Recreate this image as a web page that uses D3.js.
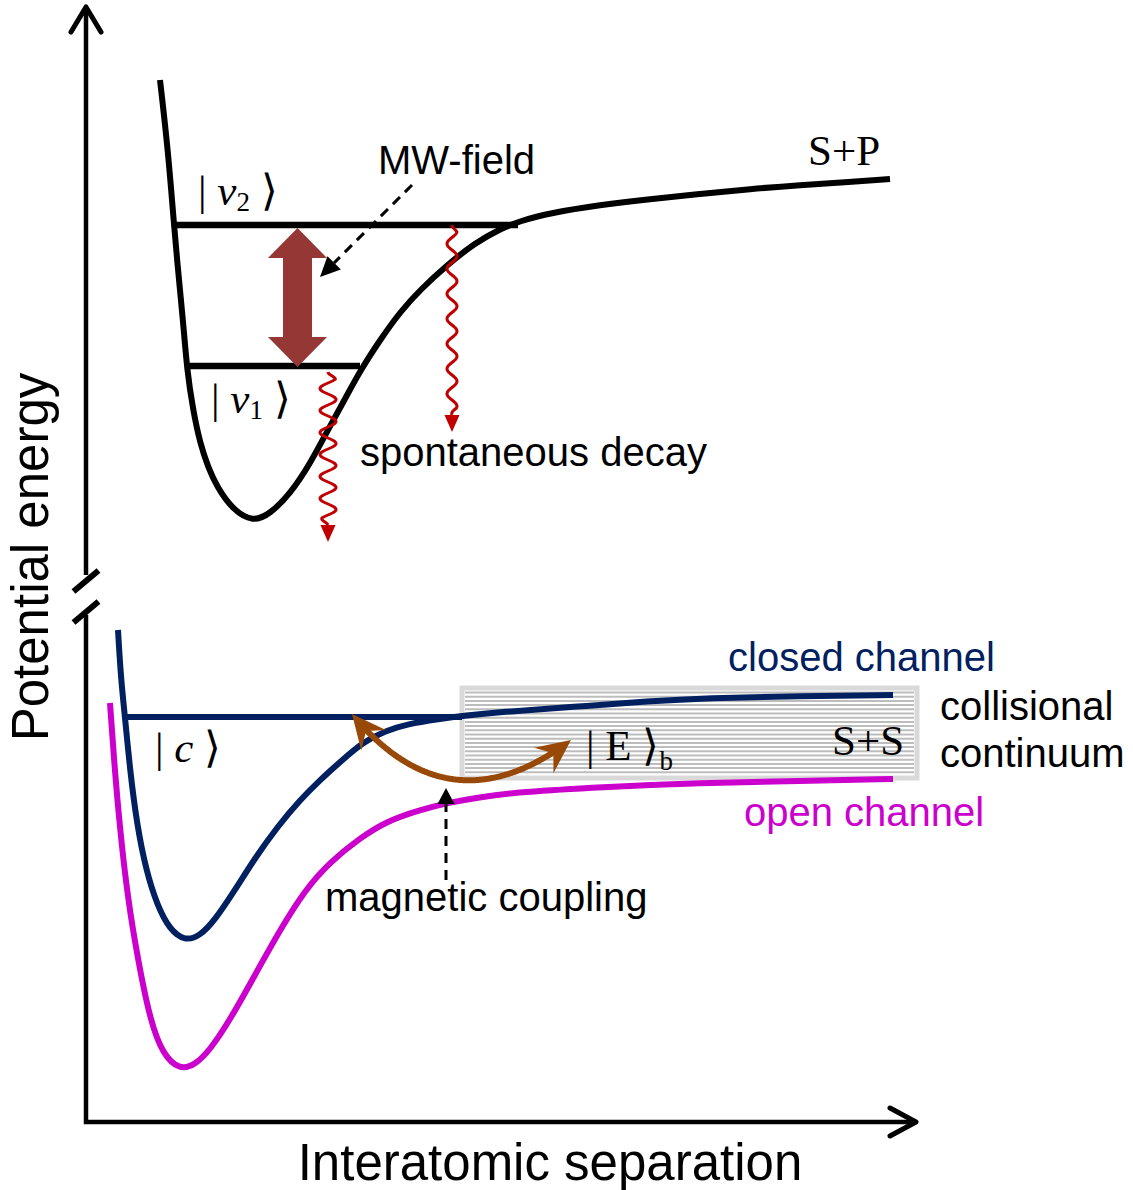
<!DOCTYPE html>
<html><head><meta charset="utf-8">
<script src="https://cdn.jsdelivr.net/npm/d3@7"></script>
<style>body{margin:0;background:#fff}</style>
</head><body>
<svg id="c" width="1133" height="1190"></svg>
<script>
// ---------- data (r in arbitrary units, energy in arbitrary units) ----------
const spCurve = [[7.4,104.2],[8.2,97.2],[8.8,89.7],[9.2,85.2],[9.7,80.2],[10.1,75.2],[10.7,71.2],[11.4,67.9],[12.2,65.5],[13.1,63.5],[14.7,61.2],[16.7,60.0],[18.4,60.8],[20.4,62.8],[22.4,65.8],[24.4,69.6],[25.9,72.3],[27.4,75.1],[29.4,78.2],[31.4,81.0],[33.4,83.2],[36.1,85.7],[38.9,87.9],[41.4,89.3],[43.4,90.1],[46.4,90.9],[51.4,91.7],[56.4,92.3],[61.4,92.8],[66.4,93.3],[71.4,93.7],[76.4,94.0],[80.4,94.3]];
const closedCurve = [[3.2,49.2],[3.5,44.2],[3.9,40.5],[4.4,35.2],[5.1,29.7],[6.0,25.2],[7.1,21.7],[8.4,19.2],[9.9,18.1],[11.4,18.6],[12.9,20.2],[14.9,23.2],[16.9,26.4],[19.2,29.6],[21.4,32.2],[23.4,34.2],[25.4,36.0],[27.7,38.0],[29.9,39.1],[32.1,39.8],[35.4,40.3],[37.6,40.6],[41.4,41.0],[48.7,41.5],[56.4,42.1],[62.1,42.4],[71.4,42.6],[80.7,42.7]];
const openCurve = [[2.4,41.9],[2.8,36.2],[3.4,29.2],[4.2,22.2],[5.2,16.2],[6.4,10.2],[7.7,6.7],[9.4,5.2],[10.9,5.7],[12.4,7.2],[14.4,10.2],[16.9,14.7],[19.4,19.2],[21.9,23.2],[24.4,26.0],[27.4,28.4],[30.1,30.1],[33.4,31.2],[36.1,31.9],[39.4,32.5],[43.4,33.0],[51.4,33.5],[61.4,33.9],[71.4,34.1],[80.7,34.3]];
// bound levels: [energy, rStart, rEnd]
const levelsTop = [[89.7, 8.9, 43.2],[75.6, 10.1, 27.4]];
const levelC = [40.5, 3.9, 37.6];
// continuum band: [rStart, rEnd, eLow, eHigh]
const continuumBand = [37.6, 83.1, 34.4, 43.4];
// MW transition double arrow: [r, eLow, eHigh]
const mwTransition = [21.15, 75.5, 89.4];
// spontaneous decay arrows: [r, eFrom, eTo]
const decays = [[24.2, 75.0, 58.0],[36.6, 89.7, 69.0]];
// pointer arrows [rFrom, eFrom, rTo, eTo]
const mwPointer = [32.6, 93.7, 23.4, 84.5];
const magPointer = [36.0, 24.2, 36.0, 33.4];
// coupling arrow tips and control point
const couplingTips = [[26.6, 40.8],[48.5, 38.2]];
const couplingCtrl = [36.3, 29.0];
// axis
const axisTop = 111.6, axisRight = 83.1, breakLow = 50.7, breakHigh = 54.7;
// labels
const sansLabels = [
  {t:"MW-field", r:29.2, e:94.8, c:"#000"},
  {t:"spontaneous decay", r:27.4, e:65.6, c:"#000"},
  {t:"closed channel", r:64.2, e:45.1, c:"#002060"},
  {t:"collisional", r:85.4, e:40.2, c:"#000"},
  {t:"continuum", r:85.4, e:35.5, c:"#000"},
  {t:"open channel", r:65.8, e:29.6, c:"#CC00CC"},
  {t:"magnetic coupling", r:23.9, e:21.1, c:"#000"}
];
const serifLabels = [{t:"S+P", r:72.2, e:95.7},{t:"S+S", r:74.6, e:36.7}];
const kets = [
  {sym:"v", sub:"2", italic:true, r:11.2, e:91.7},
  {sym:"v", sub:"1", italic:true, r:12.5, e:70.9},
  {sym:"c", sub:"", italic:true, r:6.9, e:36.0},
  {sym:"E", sub:"b", italic:false, r:50.0, e:36.2, outside:true}
];
const xTitle = "Interatomic separation", yTitle = "Potential energy";

// ---------- scales ----------
const x = d3.scaleLinear().domain([0,83]).range([86,916]);
const y = d3.scaleLinear().domain([0,111.4]).range([1122,8]);
const svg = d3.select("#c");
const SANS = "'Liberation Sans', Arial, sans-serif";
const SERIF = "'Liberation Serif', 'Times New Roman', serif";
const smooth = d3.line().x(d=>x(d[0])).y(d=>y(d[1])).curve(d3.curveBasis);

// continuum box
const [b0,b1,bl,bh] = continuumBand;
svg.append("rect").attr("x",x(b0)).attr("y",y(bh)).attr("width",x(b1)-x(b0)).attr("height",y(bl)-y(bh))
  .attr("fill","#fff").attr("stroke","#d9d9d9").attr("stroke-width",5);
svg.append("g").selectAll("line").data(d3.range(y(bh)+4.5, y(bl)-2, 4.2)).join("line")
  .attr("x1",x(b0)+3).attr("x2",x(b1)-3).attr("y1",d=>d).attr("y2",d=>d)
  .attr("stroke","#bdbdbd").attr("stroke-width",2);

// axes
const ax = svg.append("g").attr("stroke","#000").attr("stroke-width",4.5).attr("fill","none");
ax.append("line").attr("x1",x(0)).attr("x2",x(0)).attr("y1",y(0)+2).attr("y2",y(breakLow));
ax.append("line").attr("x1",x(0)).attr("x2",x(0)).attr("y1",y(breakHigh)).attr("y2",y(axisTop)+2);
ax.append("line").attr("x1",x(0)-2).attr("x2",x(axisRight)-2).attr("y1",y(0)).attr("y2",y(0));
ax.append("polyline").attr("stroke-linecap","round").attr("stroke-linejoin","round").attr("stroke-width",5)
  .attr("points",`${x(0)-15},${y(axisTop)+26} ${x(0)},${y(axisTop)+1} ${x(0)+15},${y(axisTop)+26}`);
ax.append("polyline").attr("stroke-linecap","round").attr("stroke-linejoin","round").attr("stroke-width",5)
  .attr("points",`${x(axisRight)-27},${y(0)-14} ${x(axisRight)-1},${y(0)} ${x(axisRight)-27},${y(0)+14}`);
[breakHigh-0.6, breakLow+0.3].forEach(e=>{
  ax.append("line").attr("stroke-width",6).attr("x1",x(0)-12.5).attr("y1",y(e)+10.5).attr("x2",x(0)+12.5).attr("y2",y(e)-10.5);
});

// curves
svg.append("path").attr("d",smooth(spCurve)).attr("fill","none").attr("stroke","#000").attr("stroke-width",6);
svg.append("path").attr("d",smooth(openCurve)).attr("fill","none").attr("stroke","#CC00CC").attr("stroke-width",6);
svg.append("path").attr("d",smooth(closedCurve)).attr("fill","none").attr("stroke","#002060").attr("stroke-width",6);
levelsTop.forEach(l=>svg.append("line").attr("x1",x(l[1])).attr("x2",x(l[2])).attr("y1",y(l[0])).attr("y2",y(l[0])).attr("stroke","#000").attr("stroke-width",6.5));
svg.append("line").attr("x1",x(levelC[1])).attr("x2",x(levelC[2])).attr("y1",y(levelC[0])).attr("y2",y(levelC[0])).attr("stroke","#002060").attr("stroke-width",6);

// helpers
function head(tx,ty,dx,dy,len,hw,notch){
  const n=Math.hypot(dx,dy); dx/=n; dy/=n; const px=-dy, py=dx;
  const bx=tx-dx*len, by=ty-dy*len;
  const pts=[[tx,ty],[bx+px*hw,by+py*hw],[tx-dx*len*(1-notch),ty-dy*len*(1-notch)],[bx-px*hw,by-py*hw]];
  return pts.map(p=>p.join(",")).join(" ");
}

// MW double arrow
{
  const cx=x(mwTransition[0]), yt=y(mwTransition[2]), yb=y(mwTransition[1]);
  const sw=14.5, hw=29.5, hl=30;
  const pts=[[cx,yt],[cx+hw,yt+hl],[cx+sw,yt+hl],[cx+sw,yb-hl],[cx+hw,yb-hl],[cx,yb],[cx-hw,yb-hl],[cx-sw,yb-hl],[cx-sw,yt+hl],[cx-hw,yt+hl]];
  svg.append("polygon").attr("points",pts.map(p=>p.join(",")).join(" ")).attr("fill","#953735");
}

// decay wavy arrows
decays.forEach((d,i)=>{
  const xc=x(d[0]), y0=y(d[1]), yt=y(d[2]);
  const amp = i===0?8:5, period = i===0?22:25, hl=17;
  const L = yt-hl-y0; const pts=[];
  for(let t=0;t<=L;t+=0.5){ const env=Math.min(1,t/7,(L-t)/7); pts.push([xc+amp*env*Math.sin(2*Math.PI*t/period), y0+t]); }
  svg.append("path").attr("d",d3.line()(pts)).attr("fill","none").attr("stroke","#C00000").attr("stroke-width",3);
  svg.append("polygon").attr("points",head(xc,yt,0,1,hl,7.5,0)).attr("fill","#C00000");
});

// dashed pointers
[[mwPointer,20,9.5],[magPointer,16,8.5]].forEach(([p,hl,hw])=>{
  const x0=x(p[0]),y0=y(p[1]),x1=x(p[2]),y1=y(p[3]);
  const dx=x1-x0, dy=y1-y0, n=Math.hypot(dx,dy);
  svg.append("line").attr("x1",x0).attr("y1",y0).attr("x2",x1-dx/n*hl).attr("y2",y1-dy/n*hl)
    .attr("stroke","#000").attr("stroke-width",3).attr("stroke-dasharray","10,7");
  svg.append("polygon").attr("points",head(x1,y1,dx,dy,hl,hw,0)).attr("fill","#000");
});

// coupling curved double arrow
{
  const P0=[x(couplingTips[0][0]),y(couplingTips[0][1])], P2=[x(couplingTips[1][0]),y(couplingTips[1][1])], C=[x(couplingCtrl[0]),y(couplingCtrl[1])];
  const pts=d3.range(0,1.0001,0.005).map(t=>[(1-t)*(1-t)*P0[0]+2*t*(1-t)*C[0]+t*t*P2[0],(1-t)*(1-t)*P0[1]+2*t*(1-t)*C[1]+t*t*P2[1]])
    .filter(p=>Math.hypot(p[0]-P0[0],p[1]-P0[1])>16 && Math.hypot(p[0]-P2[0],p[1]-P2[1])>16);
  svg.append("path").attr("d",d3.line()(pts)).attr("fill","none").attr("stroke","#984807").attr("stroke-width",6);
  svg.append("polygon").attr("points",head(P0[0],P0[1],P0[0]-C[0],P0[1]-C[1],34,16,0.35)).attr("fill","#984807");
  svg.append("polygon").attr("points",head(P2[0],P2[1],P2[0]-C[0],P2[1]-C[1],34,16,0.35)).attr("fill","#984807");
}

// labels
svg.append("g").selectAll("text").data(sansLabels).join("text")
  .attr("x",d=>x(d.r)).attr("y",d=>y(d.e)).attr("fill",d=>d.c)
  .attr("font-family",SANS).attr("font-size",40).text(d=>d.t);
svg.append("g").selectAll("text").data(serifLabels).join("text")
  .attr("x",d=>x(d.r)).attr("y",d=>y(d.e))
  .attr("font-family",SERIF).attr("font-size",43).text(d=>d.t);
kets.forEach(k=>{
  const t=svg.append("text").attr("x",x(k.r)).attr("y",y(k.e)).attr("font-family",SERIF).attr("font-size",43);
  t.append("tspan").text("| ");
  t.append("tspan").attr("font-style",k.italic?"italic":"normal").text(k.sym);
  if(k.sub && !k.outside){
    t.append("tspan").attr("font-size",27).attr("dy",6).text(k.sub);
    t.append("tspan").attr("dy",-6).text(" \u27E9");
  } else {
    t.append("tspan").text(" \u27E9");
    if(k.sub) t.append("tspan").attr("font-size",27).attr("dy",10).text(k.sub);
  }
});
svg.append("text").attr("x",550).attr("y",1180).attr("text-anchor","middle").attr("font-family",SANS).attr("font-size",51).text(xTitle);
svg.append("text").attr("transform","translate(48,557) rotate(-90)").attr("text-anchor","middle").attr("font-family",SANS).attr("font-size",51).text(yTitle);
</script>
</body></html>
